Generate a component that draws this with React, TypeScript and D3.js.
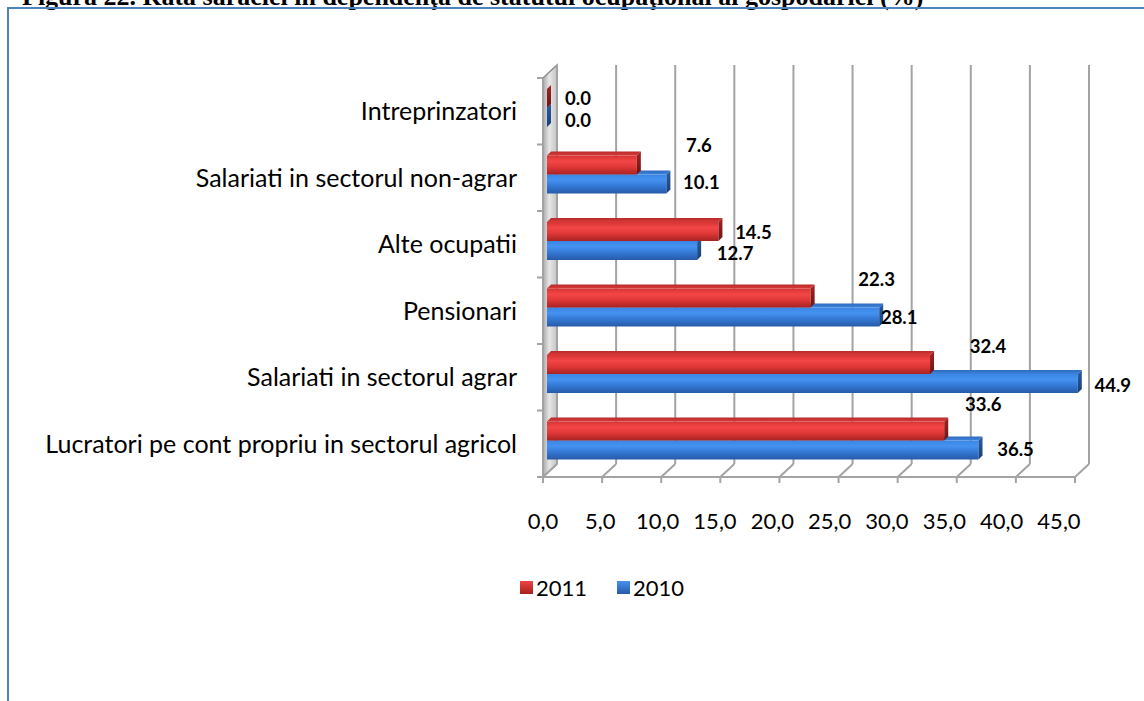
import React from "react";
import * as d3 from "d3";

const categories = [
  "Intreprinzatori",
  "Salariati in sectorul non-agrar",
  "Alte ocupatii",
  "Pensionari",
  "Salariati in sectorul agrar",
  "Lucratori pe cont propriu in sectorul agricol",
];
const values2011 = [0.0, 7.6, 14.5, 22.3, 32.4, 33.6];
const values2010 = [0.0, 10.1, 12.7, 28.1, 44.9, 36.5];
const seriesNames = ["2011", "2010"];
const tickValues = [0, 5, 10, 15, 20, 25, 30, 35, 40, 45];
// manual label nudges (dx, dy) relative to bar end / bar centre, as placed in the source
const nudge2011 = [[31, 0.5], [62, -19], [35, 1.5], [66, -18], [58, -17.5], [39, -26]];
const nudge2010 = [[31, 3], [35, -1], [38, 3], [20, 1], [35, 2], [37, 0]];
const title = "Figura 22. Rata sărăciei în dependenţa de statutul ocupaţional al gospodăriei (%)";

const FONT = "Lato, 'Open Sans', sans-serif";

export default function App() {
  const x = d3.scaleLinear().domain([0, 45]).range([543, 1075]);
  const xLab = d3.scaleLinear().domain([0, 45]).range([543, 1059]);
  const y = d3.scaleBand<string>().domain(categories).range([78, 477]);
  const sub = d3.scaleBand<string>().domain(seriesNames).range([11, 49]);
  const W = { dx: 14, dy: -13 }; // wall depth
  const B = { dx: 4, dy: -4 }; // bar depth
  const bh = sub.bandwidth();
  const grid = "#a3a3a3";
  const fmt = (v: number) => v.toFixed(1);
  const tfmt = (v: number) => v.toFixed(1).replace(".", ",");

  const bar = (v: number, cat: string, s: string, key: string) => {
    const x0 = x(0) + B.dx;
    const x1 = x(v) + B.dx;
    const y0 = (y(cat) as number) + (sub(s) as number);
    const y1 = y0 + bh;
    const id = s === "2011" ? "r" : "b";
    return (
      <g key={key}>
        <rect x={x0} y={y0} width={Math.max(0, x1 - x0)} height={bh} fill={`url(#${id}Front)`} />
        <path
          d={`M${x0},${y0} L${x0 + B.dx},${y0 + B.dy} L${x1 + B.dx},${y0 + B.dy} L${x1},${y0} Z`}
          fill={`url(#${id}Top)`}
        />
        <path
          d={`M${x1},${y0} L${x1 + B.dx},${y0 + B.dy} L${x1 + B.dx},${y1 + B.dy} L${x1},${y1} Z`}
          fill={`url(#${id}End)`}
        />
      </g>
    );
  };

  const yTop = 78;
  const yBot = 477;

  return (
    <svg
      width={1144}
      height={701}
      style={{ position: "absolute", left: 0, top: 0, background: "#fff" }}
    >
      <defs>
        <linearGradient id="rFront" x1="0" y1="0" x2="0" y2="1">
          <stop offset="0" stopColor="#d63434" />
          <stop offset="0.3" stopColor="#f44646" />
          <stop offset="0.6" stopColor="#e03838" />
          <stop offset="1" stopColor="#a82222" />
        </linearGradient>
        <linearGradient id="rTop" x1="0" y1="0" x2="0" y2="1">
          <stop offset="0" stopColor="#b82a2a" />
          <stop offset="1" stopColor="#d83a3a" />
        </linearGradient>
        <linearGradient id="rEnd" x1="0" y1="0" x2="0" y2="1">
          <stop offset="0" stopColor="#a52424" />
          <stop offset="1" stopColor="#6e1414" />
        </linearGradient>
        <linearGradient id="bFront" x1="0" y1="0" x2="0" y2="1">
          <stop offset="0" stopColor="#3a86e4" />
          <stop offset="0.3" stopColor="#4592f0" />
          <stop offset="0.6" stopColor="#3479d6" />
          <stop offset="1" stopColor="#275aa8" />
        </linearGradient>
        <linearGradient id="bTop" x1="0" y1="0" x2="0" y2="1">
          <stop offset="0" stopColor="#2f6cbf" />
          <stop offset="1" stopColor="#3d82dc" />
        </linearGradient>
        <linearGradient id="bEnd" x1="0" y1="0" x2="0" y2="1">
          <stop offset="0" stopColor="#275ea8" />
          <stop offset="1" stopColor="#173f78" />
        </linearGradient>
        <linearGradient id="wall" x1="0" y1="0" x2="1" y2="0">
          <stop offset="0" stopColor="#a9a9a9" />
          <stop offset="0.45" stopColor="#e6e6e6" />
          <stop offset="1" stopColor="#c4c4c4" />
        </linearGradient>
        <linearGradient id="legR" x1="0" y1="0" x2="0" y2="1">
          <stop offset="0" stopColor="#f04444" />
          <stop offset="1" stopColor="#a82020" />
        </linearGradient>
        <linearGradient id="legB" x1="0" y1="0" x2="0" y2="1">
          <stop offset="0" stopColor="#4592f0" />
          <stop offset="1" stopColor="#275aa8" />
        </linearGradient>
      </defs>

      {/* title (cut off at top) */}
      <text
        x={22}
        y={5}
        fontFamily="'Liberation Serif', 'Times New Roman', serif"
        fontWeight="bold"
        fontSize={26}
        fill="#000"
      >
        {title}
      </text>

      {/* frame */}
      <rect x={8} y={8} width={1300} height={900} fill="none" stroke="#4f81bd" strokeWidth={2} />

      {/* left wall */}
      <path
        d={`M${x(0)},${yTop} L${x(0) + W.dx},${yTop + W.dy} L${x(0) + W.dx},${yBot + W.dy} L${x(0)},${yBot} Z`}
        fill="url(#wall)"
        stroke="#8e8e8e"
        strokeWidth={1.5}
      />

      {/* back gridlines */}
      {tickValues.map((t) => (
        <line
          key={"g" + t}
          x1={x(t) + W.dx}
          x2={x(t) + W.dx}
          y1={yTop + W.dy}
          y2={yBot + W.dy}
          stroke={grid}
          strokeWidth={2}
        />
      ))}
      {/* floor diagonals */}
      {tickValues.map((t) => (
        <line
          key={"f" + t}
          x1={x(t)}
          x2={x(t) + W.dx}
          y1={yBot}
          y2={yBot + W.dy}
          stroke={grid}
          strokeWidth={2}
        />
      ))}
      {/* front horizontal axis */}
      <line x1={x(0) - 6} x2={x(45)} y1={yBot} y2={yBot} stroke={grid} strokeWidth={2} />
      {tickValues.map((t) => (
        <line key={"t" + t} x1={x(t)} x2={x(t)} y1={yBot} y2={yBot + 6} stroke={grid} strokeWidth={2} />
      ))}
      {/* left axis */}
      <line x1={x(0)} x2={x(0)} y1={yTop} y2={yBot} stroke={grid} strokeWidth={2} />
      {[...categories.map((c) => y(c) as number), yBot].map((yy, i) => (
        <line key={"lt" + i} x1={x(0) - 6} x2={x(0)} y1={yy} y2={yy} stroke={grid} strokeWidth={2} />
      ))}

      {/* bars */}
      {categories.map((c, i) => (
        <g key={c}>
          {bar(values2010[i], c, "2010", "b" + i)}
          {bar(values2011[i], c, "2011", "r" + i)}
        </g>
      ))}

      {/* data labels */}
      {categories.map((c, i) => {
        const yr = (y(c) as number) + (sub("2011") as number) + bh / 2;
        const yb = (y(c) as number) + (sub("2010") as number) + bh / 2;
        return (
          <g key={"lab" + i} fontFamily={FONT} fontWeight="bold" fontSize={18.5} fill="#000" textAnchor="middle">
            <text x={x(values2011[i]) + B.dx + nudge2011[i][0]} y={yr + nudge2011[i][1]} dy="0.35em">
              {fmt(values2011[i])}
            </text>
            <text x={x(values2010[i]) + B.dx + nudge2010[i][0]} y={yb + nudge2010[i][1]} dy="0.35em">
              {fmt(values2010[i])}
            </text>
          </g>
        );
      })}

      {/* category labels */}
      {categories.map((c) => (
        <text
          key={"cl" + c}
          x={517}
          y={(y(c) as number) + y.bandwidth() / 2}
          dy="0.35em"
          textAnchor="end"
          fontFamily={FONT}
          fontSize={25}
          fill="#000"
        >
          {c}
        </text>
      ))}

      {/* tick labels */}
      {tickValues.map((t) => (
        <text
          key={"tl" + t}
          x={xLab(t)}
          y={521}
          dy="0.35em"
          textAnchor="middle"
          fontFamily={FONT}
          fontSize={22}
          fill="#000"
        >
          {tfmt(t)}
        </text>
      ))}

      {/* legend */}
      <rect x={520} y={581} width={13} height={13} fill="url(#legR)" />
      <text x={536} y={588} dy="0.35em" fontFamily={FONT} fontSize={22} fill="#000">
        {seriesNames[0]}
      </text>
      <rect x={617} y={581} width={13} height={13} fill="url(#legB)" />
      <text x={633} y={588} dy="0.35em" fontFamily={FONT} fontSize={22} fill="#000">
        {seriesNames[1]}
      </text>
    </svg>
  );
}
